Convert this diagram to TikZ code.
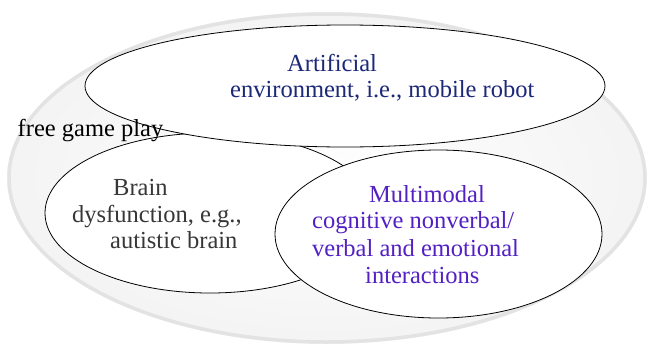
\documentclass[tikz,border=0pt]{standalone}
\usepackage{fontspec}
\setmainfont{Liberation Serif}
\usepackage{tikz}
\definecolor{artblue}{RGB}{28,40,120}
\definecolor{mmpurple}{RGB}{82,32,195}
\definecolor{braingray}{RGB}{55,55,55}

\begin{document}
\begin{tikzpicture}[x=1pt,y=-1pt]
\tikzstyle{every node}+=[inner sep=0pt,anchor=base west,font=\fontsize{24.5}{27}\selectfont]
\useasboundingbox (0,0) rectangle (653,351);
\shade [inner color=white,outer color=gray!9] (327,178) ellipse (320 and 166);
\draw [gray!22,line width=3.5pt] (327,178) ellipse (318 and 164);
\filldraw [fill=white,draw=black,line width=0.8pt] (210,213) ellipse (165 and 80);
\filldraw [fill=white,draw=black,line width=0.8pt] (345,86) ellipse (260 and 61);
\filldraw [fill=white,draw=black,line width=0.8pt] (438.5,234) ellipse (163.5 and 84);
\draw (17.5,136) node (play) {free game play};
\draw (287,71) node [artblue] (art1) {Artificial};
\draw (230,97) node [artblue] (art2) {environment, i.e., mobile robot};
\draw (113,195) node [braingray] (brain1) {Brain};
\draw (72,222) node [braingray] (brain2) {dysfunction, e.g.,};
\draw (110,248) node [braingray] (brain3) {autistic brain};
\draw (369,202) node [mmpurple] (mm1) {Multimodal};
\draw (312,228) node [mmpurple] (mm2) {cognitive nonverbal/};
\draw (312,256) node [mmpurple] (mm3) {verbal and emotional};
\draw (365,283) node [mmpurple] (mm4) {interactions};
\end{tikzpicture}
\end{document}
